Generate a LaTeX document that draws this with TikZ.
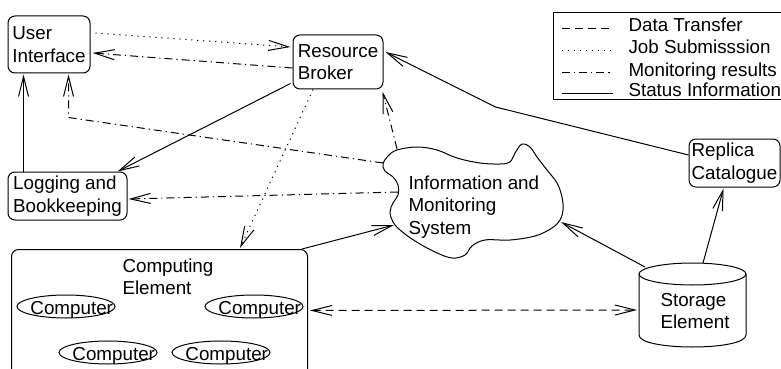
\documentclass[tikz,border=0pt]{standalone}
\usepackage{fontspec}
\setmainfont{Liberation Sans}
\usetikzlibrary{arrows.meta,calc,shapes}

\begin{document}
\begin{tikzpicture}[x=0.5pt, y=-0.5pt, line width=0.5pt, font=\fontsize{9.4}{11.25}\selectfont,
  >={Straight Barb[length=10pt,width=5pt]},
  box/.style={draw, rounded corners=3.5pt, align=left, inner sep=0pt},
  txt/.style={inner sep=0pt, align=left},
  comp/.style={draw, ellipse, minimum width=49pt, minimum height=11.5pt, inner sep=0pt},
  comptext/.style={anchor=base east, inner sep=0pt},
  dotline/.style={dash pattern=on 0.6pt off 2.4pt},
  dashline/.style={dash pattern=on 4pt off 2.5pt},
  dashdotline/.style={dash pattern=on 4pt off 2pt on 0.6pt off 2pt}]
\useasboundingbox (0,0) rectangle (781,369);

\node[box, minimum width=41pt, minimum height=28.5pt] (ui) at (49,44.5) {User\\Interface};
\node[box, minimum width=45pt, minimum height=27pt] (rb) at (338,62) {Resource\\Broker};
\node[box, minimum width=59.5pt, minimum height=24pt] (lb) at (67.5,196) {Logging and\\Bookkeeping};
\node[box, minimum width=45.5pt, minimum height=24pt] (rc) at (734.5,163) {Replica\\Catalogue};

% computing element, open at the bottom of the page
\node[box, minimum width=148pt, minimum height=70pt, anchor=north west] (ce) at (11,249) {};
\node[txt, anchor=north west] (cetext) at (122,258) {Computing\\Element};
\node[comp] (pc1) at (66,306.5) {};
\node[comp] (pc2) at (254,306.5) {};
\node[comp] (pc3) at (108,352.5) {};
\node[comp] (pc4) at (221,352.5) {};
\node[comptext] (pct1) at ($(pc1.east)+(-2,7.5)$) {Computer};
\node[comptext] (pct2) at ($(pc2.east)+(-2,7.5)$) {Computer};
\node[comptext] (pct3) at ($(pc3.east)+(-2,7.5)$) {Computer};
\node[comptext] (pct4) at ($(pc4.east)+(-2,7.5)$) {Computer};

% information and monitoring cloud
\draw plot[smooth cycle, tension=0.6] coordinates {
  (397,150) (388,156) (383,164) (385,171) (393,177) (398,185) (398,195) (393,203)
  (390,212) (393,222) (400,230) (415,241) (435,252) (452,258) (465,255) (472,246)
  (485,240) (510,240) (535,236) (552,228) (560,220) (563,210) (562,197) (557,183)
  (547,170) (537,157) (530,147) (522,144) (515,153) (510,162) (500,164) (480,163)
  (457,158) (437,150) (417,147)};
\node[txt, anchor=north west] (ims) at (408,175) {Information and\\Monitoring\\System};
\coordinate (ims-a) at (383,163);
\coordinate (ims-b) at (398,192);
\coordinate (ims-c) at (397,149);
\coordinate (ims-d) at (394,225);
\coordinate (ims-e) at (561,222);

% storage element
\draw (692.5,274) ellipse [x radius=53.5, y radius=11];
\draw (639,274) -- (639,335) .. controls (639,351) and (746,351) .. (746,335) -- (746,274);
\node[txt] (se) at (695,311) {Storage\\Element};
\coordinate (se-a) at (645,267);
\coordinate (se-b) at (703,263);
\coordinate (se-w) at (637,310);

% legend
\node[draw, anchor=north west, minimum width=116pt, minimum height=43.5pt, inner sep=0pt] (legend) at (553,12) {};
\node[anchor=base west, inner sep=0pt] (lg1) at (628,32) {Data Transfer};
\node[anchor=base west, inner sep=0pt] (lg2) at (628,54) {Job Submisssion};
\node[anchor=base west, inner sep=0pt] (lg3) at (628,76) {Monitoring results};
\node[anchor=base west, inner sep=0pt] (lg4) at (628,97) {Status Information};
\draw[dashline] ($(lg1.base west)+(-66,-3.5)$) -- ++(51,0);
\draw[dotline] ($(lg2.base west)+(-66,-3.5)$) -- ++(51,0);
\draw[dashdotline] ($(lg3.base west)+(-66,-3.5)$) -- ++(51,0);
\draw ($(lg4.base west)+(-66,-3.5)$) -- ++(51,0);

\draw[dotline,->] ($(ui.east)+(5,-11.5)$) -- ($(rb.west)+(-2,-15)$);
\draw[dashdotline,->] ($(rb.west)+(0,6)$) -- ($(ui.east)+(2,8.5)$);
\draw[->] ($(lb.north west)+(16,0)$) -- ($(ui.south west)+(16,1)$);
\draw[dashdotline,->] (ims-a) -- ($(ui.south west)+(61,44)$) -- ($(ui.south west)+(61,1)$);
\draw[->] ($(rb.south west)+(-2,-6)$) -- ($(lb.north east)+(-10,0)$);
\draw[dotline,->] ($(rb.south)+(-25,0)$) -- ($(ce.north west)+(229,-1)$);
\draw[dashdotline,->] (ims-b) -- ($(lb.east)+(1,3)$);
\draw[dashdotline,->] (ims-c) -- ($(rb.south east)+(-1,2)$);
\draw[->] ($(rc.west)+(0,-8)$) -- ($(rb.east)+(112,45)$) -- ($(rb.east)+(2,-10)$);
\draw[->] ($(ce.north east)+(-6,0)$) -- (ims-d);
\draw[->] (se-a) -- (ims-e);
\draw[->] (se-b) -- ($(rc.south)+(-11,1)$);
\draw[dashline,<->] ($(ce.east)+(2,-9)$) -- (se-w);
\end{tikzpicture}
\end{document}
